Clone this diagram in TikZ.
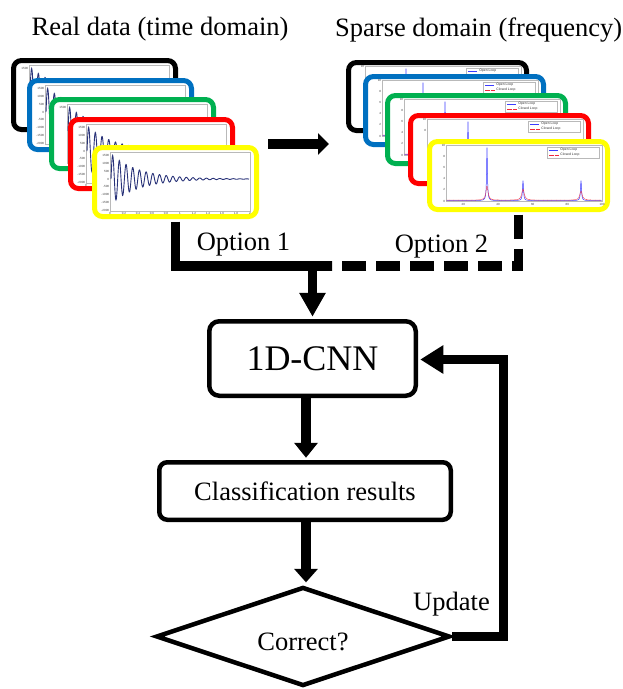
\documentclass[tikz,border=0pt]{standalone}
\usepackage{fontspec}
\setmainfont{Liberation Serif}
\newfontfamily\plotfont{Liberation Sans}
\usetikzlibrary{arrows.meta,shapes.geometric,calc}
\definecolor{cblue}{RGB}{0,112,192}
\definecolor{cgreen}{RGB}{0,176,80}
\definecolor{cred}{RGB}{255,0,0}
\definecolor{cyellow}{RGB}{255,255,0}
\definecolor{wavec}{RGB}{40,50,120}
\definecolor{openc}{RGB}{60,60,255}
\definecolor{closedc}{RGB}{240,40,60}
\tikzset{
  stackbox/.style={rectangle, rounded corners=8pt, line width=5pt, fill=white, inner sep=0pt},
  tbox/.style={stackbox, minimum width=162pt, minimum height=69pt},
  fbox/.style={stackbox, minimum width=178pt, minimum height=68pt},
  plotframe/.style={draw=gray!55, line width=0.35pt},
  ticklbl/.style={font=\plotfont\fontsize{3}{3.5}\selectfont, text=black!75, inner sep=0.2pt},
  leglbl/.style={font=\plotfont\fontsize{3.4}{4}\selectfont, text=black!80, inner sep=0.2pt, anchor=west},
  wavel/.style={draw=wavec, line width=0.9pt},
  openl/.style={draw=openc, line width=0.5pt},
  closedl/.style={draw=closedc, line width=0.5pt, dash pattern=on 0.8pt off 0.5pt},
  legopen/.style={draw=openc, line width=0.35pt},
  legclosed/.style={draw=closedc, line width=0.35pt, dash pattern=on 0.6pt off 0.5pt},
  conn/.style={line width=9.5pt, line join=miter},
  txt/.style={font=\fontsize{26.5}{30}\selectfont, inner sep=0pt},
  flowbox/.style={draw, line width=4.5pt, fill=white, inner sep=0pt},
  decision/.style={diamond, draw, line width=4.5pt, fill=white, aspect=3, inner sep=0pt,
    minimum width=294pt, minimum height=99pt, text height=27pt, text depth=0pt,
    font=\fontsize{26.5}{30}\selectfont},
  stackarrow/.style={line width=10pt, -{Triangle[length=11pt,width=21pt]}},
  arrA/.style={-{Triangle[length=24pt,width=25pt]}},
  arrB/.style={-{Triangle[length=15pt,width=23pt]}},
  arrC/.style={-{Triangle[length=13.5pt,width=23pt]}},
  arrD/.style={-{Triangle[length=23pt,width=27pt]}},
}
% time-domain card: name, colour, x, y, visible x, visible y
\newcommand\tdbox[6]{%
  \node[tbox,draw=#2] (#1) at ({#3+83.5},{#4+37}) {};
  \begin{scope}[shift={(#3,#4)}]
    \draw[plotframe] (18,7) rectangle (158,66);
    \draw[wavel] plot[domain=19:157,samples=500] (\x,{34-25*exp(-(\x-19)/28)*sin((\x-19)*53.731)});
    \foreach \v/\yy in {1500/10.4,1000/18.3,500/26.1,0/34,-500/41.9,-1000/49.7,-1500/57.6,-2000/65.4}{%
      \pgfmathtruncatemacro\ok{((19<#5)||(\yy+2<#6))?1:0}%
      \ifnum\ok=1 \node[ticklbl,anchor=east] at (17.5,\yy) {\v};\fi
    }
    \foreach \v/\xx in {0/18,0.2/32,0.4/46,0.6/60,0.8/74,1/88,1.2/102,1.4/116,1.6/130,1.8/144,2/158}{%
      \pgfmathtruncatemacro\ok{((\xx+4<#5)||(70<#6))?1:0}%
      \ifnum\ok=1 \node[ticklbl] at (\xx,68) {\v};\fi
    }
  \end{scope}
}
% frequency-domain card
\newcommand\fdbox[6]{%
  \node[fbox,draw=#2] (#1) at ({#3+91.5},{#4+36.5}) {};
  \begin{scope}[shift={(#3,#4)}]
    \draw[plotframe] (19,6) rectangle (175,62);
    \draw[openl] plot[domain=19.5:174.5,samples=621] (\x,{61.6-53/(1+min(abs(\x-60)/0.5,100)^2)-20/(1+min(abs(\x-96)/0.6,100)^2)-20/(1+min(abs(\x-154)/0.6,100)^2)});
    \draw[closedl] plot[domain=19.5:174.5,samples=621] (\x,{61.2-14/(1+min(abs(\x-60)/1.3,100)^2)-11/(1+min(abs(\x-96)/1.5,100)^2)-9/(1+min(abs(\x-154)/1.5,100)^2)});
    \foreach \v/\yy in {10/6,8/17.2,6/28.4,4/39.6,2/50.8,0/62}{%
      \pgfmathtruncatemacro\ok{((20<#5)||(\yy+2<#6))?1:0}%
      \ifnum\ok=1 \node[ticklbl,anchor=east] at (18.5,\yy) {\v};\fi
    }
    \foreach \v/\xx in {20/36.3,40/71,60/105.7,80/140.3,100/175}{%
      \pgfmathtruncatemacro\ok{((\xx+4<#5)||(68<#6))?1:0}%
      \ifnum\ok=1 \node[ticklbl] at (\xx,65.5) {\v};\fi
    }
    \draw[plotframe,fill=white] (120,8) rectangle (172,19);
    \draw[legopen] (122,11) -- (131,11);
    \draw[legclosed] (122,16) -- (131,16);
    \pgfmathtruncatemacro\ok{(12.5<#6)?1:0}%
    \ifnum\ok=1 \node[leglbl] at (133,11) {Open Loop};\fi
    \pgfmathtruncatemacro\ok{(17.5<#6)?1:0}%
    \ifnum\ok=1 \node[leglbl] at (133,16) {Closed Loop};\fi
  \end{scope}
}
\begin{document}
\begin{tikzpicture}[x=1pt,y=-1pt]
\useasboundingbox (0,0) rectangle (622,689);
\node[txt,anchor=base] (t1) at (160,35) {Real data (time domain)};
\node[txt,anchor=base west] (t2) at (335,36) {Sparse domain (frequency)};

\tdbox{tk}{black}{11}{58}{16}{20}
\tdbox{tb}{cblue}{27}{78}{22}{19}
\tdbox{tg}{cgreen}{49}{97}{19}{20}
\tdbox{tr}{cred}{68}{117}{24}{28}
\tdbox{ty}{cyellow}{92}{145}{1000}{1000}

\fdbox{fk}{black}{346}{60}{17}{14}
\fdbox{fb}{cblue}{363}{74}{22}{19}
\fdbox{fg}{cgreen}{385}{93}{23}{20}
\fdbox{fr}{cred}{408}{113}{19}{26}
\fdbox{fy}{cyellow}{427}{139}{1000}{1000}

\coordinate (sa) at (268,144);
\coordinate (sb) at (329,144);
\draw[stackarrow] (sa) -- (sb);

\node[flowbox, rounded corners=10pt, minimum width=206.5pt, minimum height=74.5pt,
      font=\fontsize{36}{40}\selectfont] (cnn) at (312.5,358.5) {1D-CNN};
\node[flowbox, txt, rounded corners=8pt, minimum width=291.5pt, minimum height=57.5pt]
      (cls) at (305,491) {Classification results};
\node[decision] (cor) at (303,636.5) {Correct?};

\coordinate (mid) at (cnn.north |- 0,266);
\draw[conn, dash pattern=on 24pt off 10pt] ($(fy.south)+(0,2.5)$) |- ($(mid)+(19.5,0)$);
\draw[conn] ($(ty.south)+(0,2.5)$) |- ($(mid)+(19.5,0)$);
\draw[conn, arrA] (mid) -- ($(cnn.north)+(0,-2.25)$);
\node[txt,anchor=base] (o1) at (243.5,250.5) {Option 1};
\node[txt,anchor=base] (o2) at (441.5,252.5) {Option 2};

\draw[conn, arrB] ($(cnn.south -| cls.north)+(1,0)$) -- ($(cls.north)+(1,-2.25)$);
\draw[conn, arrC] ($(cls.south)+(1,0)$) -- ($(cor.north)+(3,-2.4)$);

\coordinate (fbk) at (503.5,359.5);
\draw[conn, arrD] (cor.east) -| (fbk) -- ($(fbk -| cnn.east)+(2.25,0)$);
\node[txt,anchor=base] (up) at (451.5,610) {Update};
\end{tikzpicture}
\end{document}
